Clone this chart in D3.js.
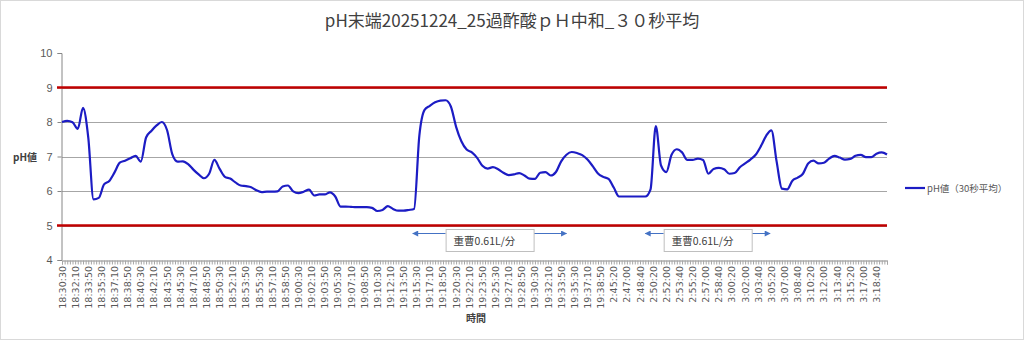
<!DOCTYPE html>
<html>
<head>
<meta charset="utf-8">
<script src="https://cdn.jsdelivr.net/npm/d3@7"></script>
<style>
  body { margin: 0; background: #fff; }
  svg { display: block; font-family: "Noto Sans CJK JP", "Noto Sans", sans-serif; }
</style>
</head>
<body>
<div id="chart"></div>
<script>
var width = 1024,
    height = 340;

////////// data //////////
var chartTitle = "pH末端20251224_25過酢酸ｐＨ中和_３０秒平均";
var seriesName = "pH値（30秒平均）";
var yTitle = "pH値",
    xTitle = "時間";

var yTicks = [4, 5, 6, 7, 8, 9, 10];
var limitLines = [9, 5];

// category axis: one reading every 10 s, a label every 10th reading
var lastCategory = 628;
var labelStep = 10;
var sampleStep = 4;

var timeLabels = [
  "18:30:30", "18:32:10", "18:33:50", "18:35:30", "18:37:10", "18:38:50", "18:40:30",
  "18:42:10", "18:43:50", "18:45:30", "18:47:10", "18:48:50", "18:50:30", "18:52:10",
  "18:53:50", "18:55:30", "18:57:10", "18:58:50", "19:00:30", "19:02:10", "19:03:50",
  "19:05:30", "19:07:10", "19:08:50", "19:10:30", "19:12:10", "19:13:50", "19:15:30",
  "19:17:10", "19:18:50", "19:20:30", "19:22:10", "19:23:50", "19:25:30", "19:27:10",
  "19:28:50", "19:30:30", "19:32:10", "19:33:50", "19:35:30", "19:37:10", "19:38:50",
  "2:45:20", "2:47:00", "2:48:40", "2:50:20", "2:52:00", "2:53:40", "2:55:20",
  "2:57:00", "2:58:40", "3:00:20", "3:02:00", "3:03:40", "3:05:20", "3:07:00",
  "3:08:40", "3:10:20", "3:12:00", "3:13:40", "3:15:20", "3:17:00", "3:18:40"
];

var phValues = [
  8.00, 8.03, 7.99, 7.80, 8.41, 7.55, 5.76, 5.80, 6.19, 6.29,
  6.54, 6.82, 6.88, 6.95, 7.02, 6.85, 7.55, 7.74, 7.90, 8.00,
  7.76, 7.06, 6.85, 6.86, 6.78, 6.62, 6.48, 6.37, 6.50, 6.90,
  6.64, 6.41, 6.36, 6.25, 6.16, 6.14, 6.11, 6.02, 5.97, 5.98,
  5.98, 5.99, 6.13, 6.16, 5.99, 5.94, 5.98, 6.04, 5.87, 5.90,
  5.90, 5.96, 5.84, 5.55, 5.55, 5.54, 5.53, 5.53, 5.53, 5.51,
  5.42, 5.45, 5.56, 5.48, 5.43, 5.43, 5.45, 5.48, 7.60, 8.35,
  8.47, 8.57, 8.62, 8.63, 8.45, 7.86, 7.44, 7.20, 7.12, 6.96,
  6.73, 6.65, 6.69, 6.63, 6.53, 6.46, 6.48, 6.52, 6.45, 6.36,
  6.35, 6.53, 6.55, 6.45, 6.55, 6.86, 7.05, 7.13, 7.10, 7.04,
  6.91, 6.72, 6.51, 6.41, 6.35, 6.10, 5.84, 5.84, 5.84, 5.84,
  5.84, 5.84, 6.05, 7.88, 6.74, 6.55, 7.05, 7.21, 7.12, 6.90,
  6.90, 6.94, 6.90, 6.50, 6.64, 6.67, 6.63, 6.50, 6.52, 6.69,
  6.80, 6.91, 7.05, 7.30, 7.60, 7.76, 6.85, 6.07, 6.05, 6.30,
  6.39, 6.50, 6.80, 6.88, 6.80, 6.82, 6.94, 7.02, 6.97, 6.91,
  6.93, 7.02, 7.05, 6.98, 6.98, 7.08, 7.12, 7.06
];

// sodium bicarbonate dosing periods (category index range)
var dosingFrom = [267, 444],
    dosingTo   = [384, 539],
    dosingText = ["重曹0.61L/分", "重曹0.61L/分"];

////////// chart //////////
var plot = {left: 62, right: 887, top: 53, bottom: 260};

var svg = d3.select("#chart").append("svg")
    .attr("width", width)
    .attr("height", height);

svg.append("rect")
    .attr("x", 0.5).attr("y", 0.5)
    .attr("width", width - 1).attr("height", height - 1)
    .attr("fill", "#fff")
    .attr("stroke", "#d9d9d9");

var x = d3.scaleLinear()
    .domain([0, lastCategory])
    .range([plot.left, plot.right]);

var y = d3.scaleLinear()
    .domain([4, 10])
    .range([plot.bottom, plot.top]);

// horizontal gridlines
svg.append("g")
    .selectAll("line")
    .data(yTicks.filter(function(d){ return d > 4 && d < 10; }))
    .enter().append("line")
    .attr("x1", plot.left).attr("x2", plot.right)
    .attr("y1", function(d){ return Math.round(y(d)) + 0.5; })
    .attr("y2", function(d){ return Math.round(y(d)) + 0.5; })
    .attr("stroke", "#a6a6a6")
    .attr("stroke-width", 1);

// y axis
var yAxis = svg.append("g")
    .attr("transform", "translate(" + (plot.left - 0.5) + ",0)")
    .call(d3.axisLeft(y).tickValues(yTicks).tickFormat(d3.format("d")).tickSize(4).tickPadding(5));
yAxis.select(".domain").attr("stroke", "#868686");
yAxis.selectAll(".tick line").attr("stroke", "#868686");
yAxis.selectAll(".tick text")
    .attr("fill", "#595959")
    .style("font-family", "Liberation Sans, Arial, sans-serif")
    .style("font-size", "11px");

// x axis: a tick per couple of readings, a label every 10th
var xAxis = svg.append("g")
    .attr("transform", "translate(0," + (plot.bottom + 0.5) + ")")
    .call(d3.axisBottom(x)
        .tickValues(d3.range(0, lastCategory + 1, 2))
        .tickSize(4)
        .tickFormat(""));
xAxis.select(".domain").attr("stroke", "#868686");
xAxis.selectAll(".tick line").attr("stroke", "#a6a6a6");

svg.append("g")
    .selectAll("text")
    .data(timeLabels)
    .enter().append("text")
    .attr("transform", function(d, i){
        return "translate(" + (x(i * labelStep) + 3.5) + "," + (plot.bottom + 6) + ") rotate(-90)";
    })
    .attr("text-anchor", "end")
    .attr("fill", "#595959")
    .style("font-family", "DejaVu Sans, sans-serif")
    .style("font-size", "9.5px")
    .text(function(d){ return d; });

// limit lines
svg.append("g")
    .selectAll("line")
    .data(limitLines)
    .enter().append("line")
    .attr("x1", plot.left - 5).attr("x2", plot.right)
    .attr("y1", function(d){ return y(d); })
    .attr("y2", function(d){ return y(d); })
    .attr("stroke", "#c00000")
    .attr("stroke-width", 2.5);

// pH line
var line = d3.line()
    .x(function(d, i){ return x(i * sampleStep); })
    .y(function(d){ return y(d); })
    .curve(d3.curveMonotoneX);

svg.append("path")
    .datum(phValues)
    .attr("d", line)
    .attr("fill", "none")
    .attr("stroke", "#1c1cc4")
    .attr("stroke-width", 2.2)
    .attr("stroke-linejoin", "round");

// dosing annotations
var arrowColor = "#4472c4";
svg.append("defs").append("marker")
    .attr("id", "head")
    .attr("viewBox", "0 0 10 10")
    .attr("refX", 9).attr("refY", 5)
    .attr("markerWidth", 7).attr("markerHeight", 6)
    .attr("orient", "auto")
    .append("path")
    .attr("d", "M0,0 L10,5 L0,10 z")
    .attr("fill", arrowColor);

var boxW = 88, boxH = 22, arrowY = 233.5;
dosingText.forEach(function(t, i){
    var x0 = x(dosingFrom[i]), x1 = x(dosingTo[i]), cx = (x0 + x1) / 2;
    var g = svg.append("g");
    g.append("line")
        .attr("x1", cx - boxW / 2).attr("x2", x0)
        .attr("y1", arrowY).attr("y2", arrowY)
        .attr("stroke", arrowColor).attr("stroke-width", 1)
        .attr("marker-end", "url(#head)");
    g.append("line")
        .attr("x1", cx + boxW / 2).attr("x2", x1)
        .attr("y1", arrowY).attr("y2", arrowY)
        .attr("stroke", arrowColor).attr("stroke-width", 1)
        .attr("marker-end", "url(#head)");
    g.append("rect")
        .attr("x", cx - boxW / 2 + 0.5).attr("y", 229.5)
        .attr("width", boxW).attr("height", boxH)
        .attr("fill", "#fff")
        .attr("stroke", "#bfbfbf");
    g.append("text")
        .attr("x", cx - boxW / 2 + 8).attr("y", 245)
        .attr("fill", "#404040")
        .style("font-size", "10.5px")
        .text(t);
});

// titles
svg.append("text")
    .attr("x", 512).attr("y", 27)
    .attr("text-anchor", "middle")
    .attr("fill", "#404040")
    .style("font-size", "17px")
    .text(chartTitle);

svg.append("text")
    .attr("x", 25).attr("y", 161)
    .attr("text-anchor", "middle")
    .attr("fill", "#404040")
    .style("font-size", "10px")
    .style("font-weight", "bold")
    .text(yTitle);

svg.append("text")
    .attr("x", 476).attr("y", 322)
    .attr("text-anchor", "middle")
    .attr("fill", "#404040")
    .style("font-size", "10px")
    .style("font-weight", "bold")
    .text(xTitle);

// legend
svg.append("line")
    .attr("x1", 905).attr("x2", 925)
    .attr("y1", 188).attr("y2", 188)
    .attr("stroke", "#1c1cc4")
    .attr("stroke-width", 2.2);

svg.append("text")
    .attr("x", 927).attr("y", 191.5)
    .attr("fill", "#595959")
    .style("font-size", "9.5px")
    .text(seriesName);
</script>
</body>
</html>
